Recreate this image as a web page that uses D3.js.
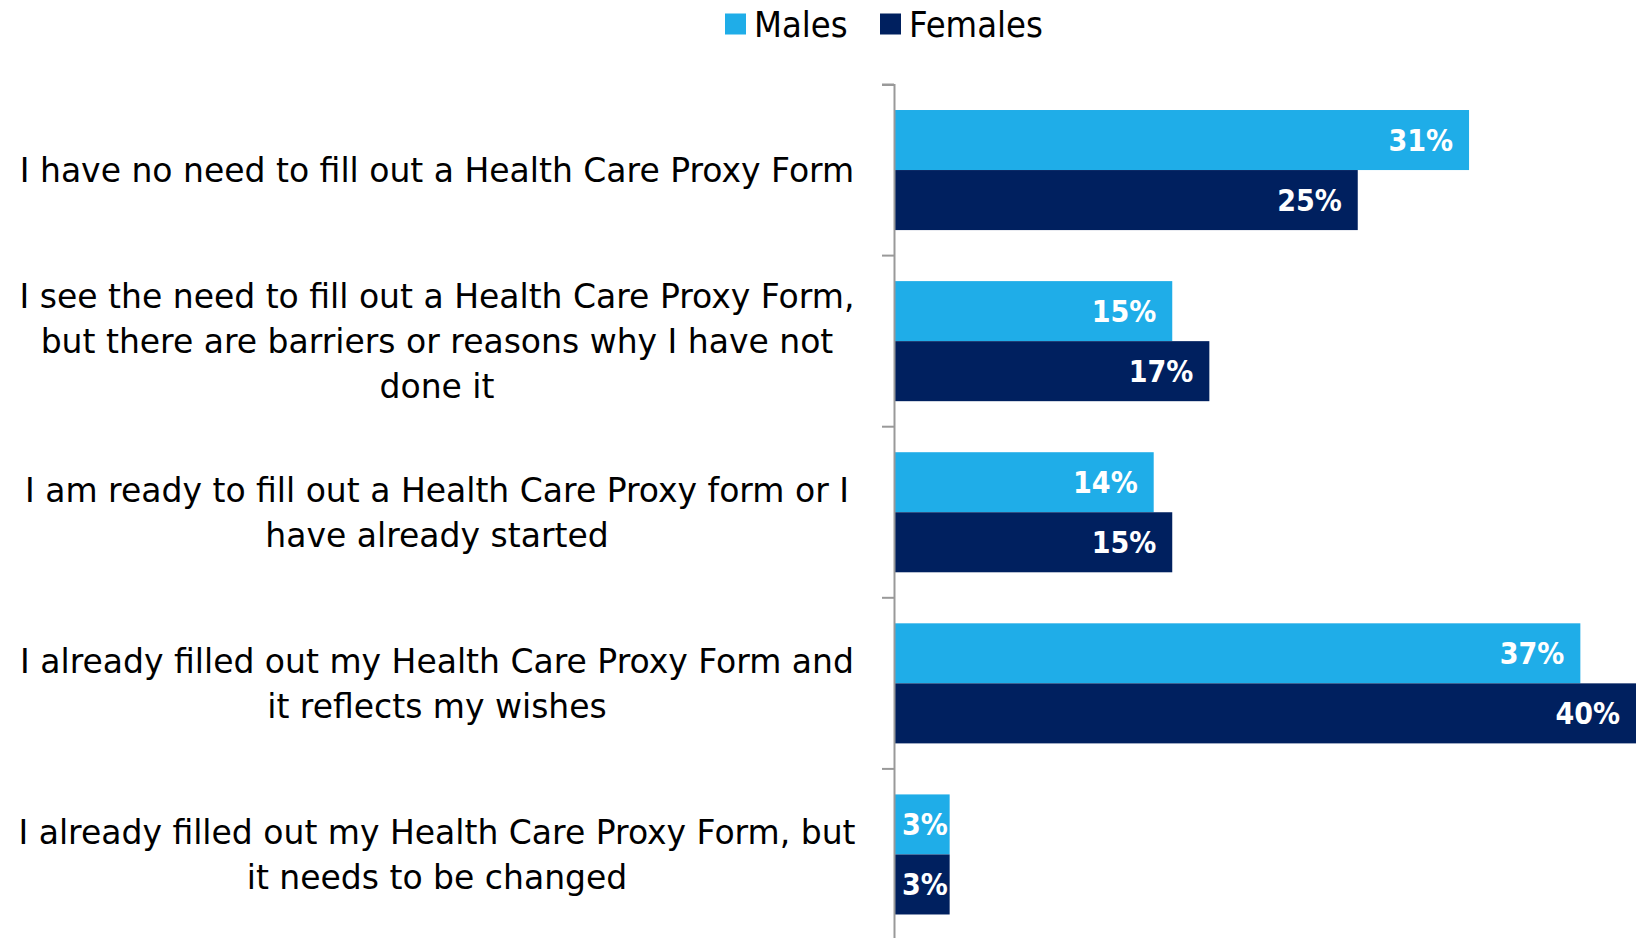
<!DOCTYPE html>
<html><head><meta charset="utf-8">
<script src="https://cdn.jsdelivr.net/npm/d3@7"></script>
<style>
html,body{margin:0;padding:0;background:#fff;}
svg{display:block;}
text{font-family:"DejaVu Sans Condensed","DejaVu Sans",sans-serif;font-stretch:condensed;}
text.cat{font-family:"DejaVu Sans",sans-serif;font-stretch:normal;}
</style></head>
<body>
<svg id="chart" width="1636" height="938"></svg>
<script>
const categories = [
  "I have no need to fill out a Health Care Proxy Form",
  "I see the need to fill out a Health Care Proxy Form,|but there are barriers or reasons why I have not|done it",
  "I am ready to fill out a Health Care Proxy form or I|have already started",
  "I already filled out my Health Care Proxy Form and|it reflects my wishes",
  "I already filled out my Health Care Proxy Form, but|it needs to be changed"
];
const seriesNames = ["Males", "Females"];
const males = [31, 15, 14, 37, 3];
const females = [25, 17, 15, 40, 3];
const seriesColors = ["#1FADE8", "#00205F"];

(function(){
const svg = d3.select("#chart");
const axisX = 894, plotTop = 84.5, plotBottom = 940;

const x = d3.scaleLinear().domain([0, 40]).range([axisX, 1636]);
const y = d3.scaleBand().domain(d3.range(categories.length)).range([plotTop, plotBottom]).paddingInner(0).paddingOuter(0);
const inner = d3.scaleBand().domain(seriesNames).range([0, y.bandwidth()]).paddingOuter(0.425).paddingInner(0);

const data = categories.map((c, i) => ({i, vals: [males[i], females[i]]}));

const g = svg.append("g");
const groups = g.selectAll("g.cat").data(data).join("g")
  .attr("transform", d => `translate(0,${y(d.i)})`);

groups.selectAll("rect").data(d => d.vals.map((v, k) => ({v, k})))
  .join("rect")
  .attr("x", x(0))
  .attr("y", d => inner(seriesNames[d.k]))
  .attr("width", d => x(d.v) - x(0))
  .attr("height", inner.bandwidth())
  .attr("fill", d => seriesColors[d.k]);

groups.selectAll("text.val").data(d => d.vals.map((v, k) => ({v, k})))
  .join("text")
  .attr("class", "val")
  .attr("x", d => (x(d.v) - x(0) < 100) ? (x(0) + x(d.v)) / 2 + 3 : x(d.v) - 16)
  .attr("y", d => inner(seriesNames[d.k]) + inner.bandwidth() / 2)
  .attr("dy", "0.36em")
  .attr("text-anchor", d => (x(d.v) - x(0) < 100) ? "middle" : "end")
  .attr("fill", "#fff")
  .attr("font-weight", "bold")
  .attr("font-size", 30)
  .text(d => d.v + "%");

// axis
const axis = d3.axisLeft(y).tickSize(12).tickFormat("").tickSizeOuter(12);
const ag = svg.append("g").attr("transform", `translate(${axisX},0)`).call(axis);
ag.selectAll("path,line").attr("stroke", "#999").attr("stroke-width", 2);
ag.selectAll(".tick").remove();
ag.selectAll("line.bt").data(d3.range(categories.length)).join("line")
  .attr("class", "bt")
  .attr("x1", -12).attr("x2", 0)
  .attr("y1", d => y(d)).attr("y2", d => y(d))
  .attr("stroke", "#999").attr("stroke-width", 2);

// category labels
const lh = 45;
const labels = svg.append("g");
categories.forEach((c, i) => {
  const lines = c.split("|");
  const cy = y(i) + y.bandwidth() / 2;
  const t = labels.append("text")
    .attr("class", "cat")
    .attr("text-anchor", "middle")
    .attr("font-size", 33)
    .attr("fill", "#000");
  lines.forEach((ln, j) => {
    t.append("tspan")
      .attr("x", 437)
      .attr("y", cy + (j - (lines.length - 1) / 2) * lh)
      .attr("dy", "0.36em")
      .text(ln);
  });
});

// legend
const legend = svg.append("g");
const legX = [725, 880];
seriesNames.forEach((n, k) => {
  legend.append("rect").attr("x", legX[k]).attr("y", 13.5).attr("width", 21).attr("height", 21).attr("fill", seriesColors[k]);
  legend.append("text").attr("x", legX[k] + 29).attr("y", 24).attr("dy", "0.36em")
    .attr("font-size", 36).attr("fill", "#000").text(n);
});
})();
</script>
</body></html>
